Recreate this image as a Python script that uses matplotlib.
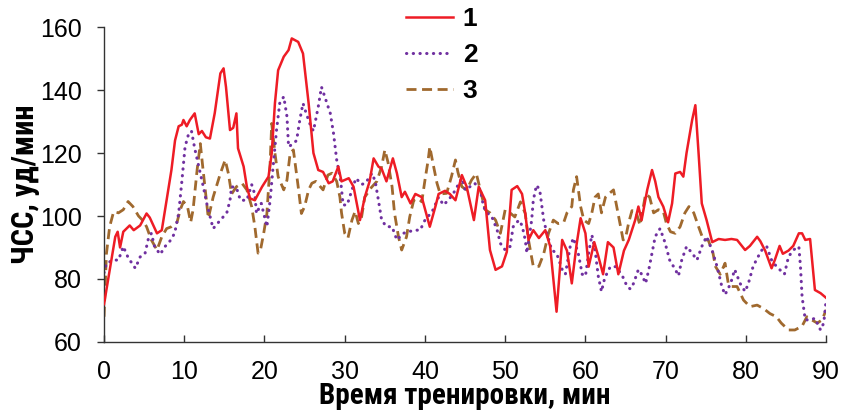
import matplotlib
matplotlib.use("Agg")
import matplotlib.pyplot as plt

# heart rate during training, 3 sessions
t1 = [0, 1.4, 1.7, 2.0, 2.4, 3.2, 3.7, 4.5, 5.3, 5.7, 6.6, 7.2, 7.8, 8.4, 8.85, 9.3, 9.7, 9.9,
      10.3, 10.7, 11.3, 11.8, 12.2, 12.7, 13.2, 13.8, 14.5, 14.9, 15.2, 15.7, 16.1, 16.5, 16.7,
      17.4, 17.8, 18.2, 18.8, 19.7, 20.5, 20.9, 21.3, 21.7, 22.4, 23.0, 23.4, 24.2, 24.8, 25.5,
      26.1, 26.7, 27.3, 28.0, 28.5, 29.2, 29.6, 30.5, 31.1, 31.9, 32.5, 33.1, 33.6, 34.2, 34.6,
      35.2, 36.0, 36.5, 37.1, 37.5, 38.2, 38.8, 39.6, 40.6, 41.3, 41.7, 42.5, 43.1, 43.8, 44.6,
      45.2, 46.1, 46.7, 47.5, 48.1, 48.8, 49.6, 50.2, 50.8, 51.5, 52.1, 52.5, 52.9, 53.5, 54.2,
      55.0, 55.6, 56.4, 57.1, 57.7, 58.3, 58.9, 59.4, 60.0, 60.4, 61.1, 61.6, 62.2, 62.8, 63.5,
      64.1, 64.8, 65.4, 66.2, 66.6, 67.0, 67.7, 68.3, 68.7, 69.1, 69.7, 70.3, 70.8, 71.2, 71.8,
      72.2, 72.6, 73.3, 73.7, 74.1, 74.5, 75.1, 75.8, 76.6, 77.4, 78.2, 78.9, 79.9, 80.5, 81.4,
      81.8, 82.4, 83.2, 83.6, 84.2, 84.6, 85.3, 85.9, 86.6, 87.0, 87.4, 88.0, 88.6, 89.3, 90.0]
hr1 = [72, 93.4, 95, 90, 95, 97, 95.5, 97, 100.8, 99.5, 94.5, 95.5, 105, 114.6, 124, 128.5, 129, 130.5,
       128.5, 130.5, 132.6, 126, 127, 125, 124.6, 132.7, 145.3, 146.9, 141, 127.3, 128, 132.6, 121.5,
       115.7, 109.3, 105.6, 105, 109.3, 112.5, 119.9, 135.8, 146.3, 150.6, 152.7, 156.4, 155.3, 151.6, 135.8,
       120, 114.6, 114, 110.4, 111, 115.7, 111, 112, 109.3, 98.7, 106, 111, 118.3, 115.7, 115,
       111, 118.3, 113.6, 106, 107.7, 104, 107, 106, 96.6, 103, 107, 108, 107, 105, 113,
       109.3, 98.7, 109.3, 105, 89.2, 82.9, 84, 88.6, 108.3, 109.5, 107, 100.8, 92.4, 95.5, 93,
       95.5, 90.4, 69.6, 92.4, 89, 78.6, 91, 99.3, 94.5, 83.9, 91.7, 87.3, 81.5, 91.7, 90,
       81.5, 89, 92.4, 98.7, 103, 98.7, 108.3, 114.6, 111, 106, 103, 98, 104, 113.5, 114,
       112.5, 120, 130.5, 135.2, 120, 104, 98.7, 91.7, 92.7, 92.4, 92.7, 92.4, 89.2, 90.5, 93.4,
       92, 89, 83.4, 86, 90.5, 88, 89, 90.5, 94.5, 94.5, 92.4, 92.7, 76.5, 75.5, 74]

t2 = [0, 0.3, 1.2, 1.8, 2.4, 3.0, 3.9, 4.5, 5.1, 5.5, 5.9, 6.3, 7.0, 7.6, 8.2, 8.8, 9.3, 9.7,
      10.1, 10.5, 10.9, 11.3, 11.7, 12.4, 12.8, 13.2, 13.6, 14.5, 15.3, 15.7, 15.9, 16.5, 17.0,
      17.8, 18.4, 18.8, 19.0, 19.6, 20.3, 20.7, 21.1, 21.5, 21.9, 22.4, 22.8, 23.0, 23.6, 24.0,
      24.4, 24.8, 25.2, 25.7, 26.1, 26.7, 27.1, 27.5, 28.2, 28.6, 29.0, 29.5, 29.8, 30.3, 30.9,
      31.4, 32.1, 32.6, 33.4, 33.8, 34.2, 34.6, 35.2, 35.9, 36.5, 37.3, 37.9, 38.8, 39.4, 40.0,
      40.9, 41.7, 42.3, 42.9, 43.5, 44.0, 44.6, 45.0, 45.6, 46.2, 46.9, 47.3, 47.7, 48.3, 49.0,
      49.4, 50.0, 50.6, 51.0, 51.7, 52.1, 52.5, 52.7, 53.3, 53.5, 53.9, 54.3, 54.8, 55.2, 55.8,
      56.4, 57.1, 57.5, 58.1, 58.5, 59.1, 59.6, 60.0, 60.4, 60.8, 61.2, 61.6, 62.0, 62.4, 63.1,
      63.8, 64.6, 65.2, 65.6, 66.0, 66.6, 67.0, 67.5, 67.9, 68.3, 68.7, 69.3, 69.9, 70.5, 71.2,
      71.6, 72.0, 72.6, 73.3, 73.9, 74.5, 75.1, 75.8, 76.4, 77.0, 77.4, 78.1, 78.6, 79.3, 79.9,
      80.3, 80.9, 81.5, 82.0, 82.6, 83.2, 83.8, 84.4, 84.8, 85.3, 85.9, 86.6, 86.8, 87.0, 87.4,
      88.0, 88.6, 89.3, 89.7, 90.0]
hr2 = [82, 85, 86, 86, 90.3, 86.8, 83.4, 87, 88, 92.5, 94.5, 90.3, 87.8, 90.3, 92, 94.5, 100.8, 111,
       122, 125.7, 127, 121.5, 117, 109, 104, 100, 96, 98.7, 101, 105, 109.3, 109, 105,
       105, 110, 106.8, 100.8, 104, 96.6, 105, 116.4, 127.3, 135.8, 137.9, 131.6, 122, 123, 124,
       130.5, 135.8, 132.6, 129, 127, 134.7, 141, 138, 132.6, 126.3, 117.8, 111, 103.5, 103.5, 108.3,
       112, 110, 110.5, 113.6, 111, 105, 98.7, 96.6, 96.6, 92.4, 94.5, 95, 95.5, 95.5, 98.7,
       101.4, 106, 103.5, 105, 107, 109.3, 112, 108.3, 109.3, 110.4, 108.3, 103, 101, 100, 95.5,
       91.3, 89.2, 90.3, 96.6, 98.7, 97, 92.4, 88.2, 98.7, 105, 109.8, 108.3, 98.7, 94.5, 89.2,
       88.2, 83, 81.5, 90.3, 93, 88.2, 81.5, 80.9, 88.2, 94, 89.2, 80.9, 76, 80.3, 83.9,
       83.9, 81, 77.6, 76.8, 78.6, 83, 81.5, 78.6, 83, 88.2, 93.5, 96, 91.7, 86, 83,
       81, 86, 90.3, 88.2, 86, 90.3, 93.5, 89, 84, 77.6, 75, 78.6, 83, 78.5, 76,
       78.5, 84, 87, 89.2, 90.3, 86, 84, 82.5, 81.5, 87, 89.2, 90.3, 84, 74.4, 67,
       67, 67.5, 63.8, 66, 73.3]

t3 = [0, 0.3, 0.7, 1.2, 1.8, 2.4, 3.0, 3.6, 4.3, 4.9, 5.3, 5.9, 6.6, 7.2, 7.8, 8.4, 9.1, 9.5,
      9.9, 10.4, 10.8, 11.1, 11.6, 12.0, 12.3, 12.8, 13.0, 13.6, 14.5, 15.1, 15.5, 15.9, 16.5,
      17.2, 17.8, 18.4, 18.8, 19.2, 19.5, 19.9, 20.3, 20.7, 20.9, 21.3, 21.7, 22.4, 22.8, 23.2,
      23.6, 24.2, 24.6, 25.0, 25.5, 25.9, 26.4, 27.3, 27.9, 28.4, 29.0, 29.4, 29.6, 30.0, 30.4,
      30.9, 31.3, 31.7, 32.1, 32.5, 33.3, 34.0, 34.6, 35.0, 35.4, 35.9, 36.2, 36.7, 37.1, 37.7,
      38.1, 38.6, 39.2, 39.6, 40.0, 40.4, 40.6, 41.0, 41.5, 41.9, 42.7, 43.3, 43.8, 44.1, 44.6,
      45.2, 45.8, 46.4, 46.9, 47.5, 48.1, 48.8, 49.4, 50.0, 50.6, 51.2, 51.9, 52.5, 52.9, 53.5,
      54.2, 54.8, 55.4, 56.0, 56.6, 57.3, 57.7, 58.3, 58.5, 58.9, 59.4, 59.8, 60.4, 60.8, 61.2,
      61.6, 62.0, 62.5, 62.9, 63.5, 63.9, 64.3, 64.7, 65.0, 65.4, 65.8, 66.3, 66.8, 67.5, 68.0,
      68.5, 69.1, 69.7, 70.1, 70.6, 71.2, 71.8, 72.4, 72.9, 73.5, 74.1, 74.7, 75.3, 75.9, 76.2,
      76.8, 77.4, 77.8, 78.2, 78.9, 79.7, 80.5, 81.4, 82.2, 83.0, 83.8, 84.4, 85.3, 86.1, 87.0,
      87.6, 88.2, 88.9, 89.5, 90.0]
hr3 = [68, 88, 96.6, 101.4, 101, 102, 104.6, 103, 100, 98.4, 96.6, 92.4, 89.2, 93.4, 96, 96.6, 98, 102,
       104.6, 103, 98, 102, 114.6, 123, 115.7, 104, 99.3, 106, 113.5, 117.8, 113.5, 107, 109.3,
       110.4, 108.3, 103, 96.6, 88.2, 89.2, 94.5, 100.8, 116.7, 129.4, 120, 112.5, 108.3, 111.4, 120,
       121, 109.3, 100.8, 103, 108.3, 110.4, 111, 108.3, 113, 113.6, 111, 106, 101, 94.5, 93,
       98.7, 101.5, 97.6, 99.7, 106, 109, 111, 115.7, 121, 117, 109.3, 101, 93.4, 89.2, 93.4,
       99.7, 105, 105.5, 104.5, 111.4, 117.8, 122, 116.7, 110.4, 107, 107.2, 112.5, 117.8, 114, 109.3,
       108.3, 111.4, 113.5, 108.3, 102, 101, 98.7, 94.5, 102, 101, 99.7, 104.5, 100.8, 92.4, 84,
       84, 88, 94.5, 98.7, 97.6, 98, 101, 103, 108.3, 112.5, 103, 98.7, 97.6, 101, 106,
       107, 101, 106, 107, 108.3, 103, 97.6, 92.4, 93, 98, 101.7, 101.5, 97, 107, 106,
       101, 102, 101.5, 97.6, 95, 94.5, 96.6, 101, 103, 101, 96.6, 92.4, 92.4, 88.2, 84,
       81.5, 85, 78.6, 77.6, 77.6, 73.3, 71.2, 71.7, 70.6, 69, 68, 66, 63.8, 63.8, 65,
       68, 67, 66, 67, 70.2]

xticks = list(range(0, 91, 10))
yticks = list(range(60, 161, 20))

plt.rcParams['font.family'] = ['Liberation Sans', 'DejaVu Sans']
label_font = ['Roboto Condensed', 'DejaVu Sans']

fig = plt.figure(figsize=(8.43, 4.17), dpi=100)
ax = fig.add_axes([0.1234, 0.18, 0.8566, 0.755])

ax.plot(t1, hr1, color='#EE1C25', lw=1.8, label='1', zorder=3)
ax.plot(t2, hr2, color='#7030A0', lw=2.2, linestyle=(0, (0.1, 2.1)),
        dash_capstyle='round', label='2', zorder=2)
ax.plot(t3, hr3, color='#A0692E', lw=2.0, dashes=(3.6, 2.0), label='3', zorder=1)

ax.set_xlim(0, 90)
ax.set_ylim(60, 160)
ax.set_xticks(xticks)
ax.set_yticks(yticks)
ax.spines['top'].set_visible(False)
ax.spines['right'].set_visible(False)
for s in ('left', 'bottom'):
    ax.spines[s].set_linewidth(1.0)
    ax.spines[s].set_color('#333333')
ax.tick_params(axis='x', direction='in', length=5, width=1, labelsize=18, pad=13, color='#333333')
ax.tick_params(axis='y', direction='out', length=5, width=1, labelsize=18, pad=11, color='#333333')

ax.set_xlabel('Время тренировки, мин', fontsize=21, fontweight='bold', family=label_font)
ax.set_ylabel('ЧСС, уд/мин', fontsize=22, fontweight='bold', family=label_font)
ax.xaxis.set_label_coords(0.5, -0.128)
ax.yaxis.set_label_coords(-0.088, 0.5)

fig.legend(loc='upper left', bbox_to_anchor=(0.4816, 0.983), frameon=False,
           prop={'size': 19, 'weight': 'bold'}, handlelength=1.8, handletextpad=0.35,
           labelspacing=0.45, borderpad=0, borderaxespad=0)

fig.savefig('out.png', dpi=100)
